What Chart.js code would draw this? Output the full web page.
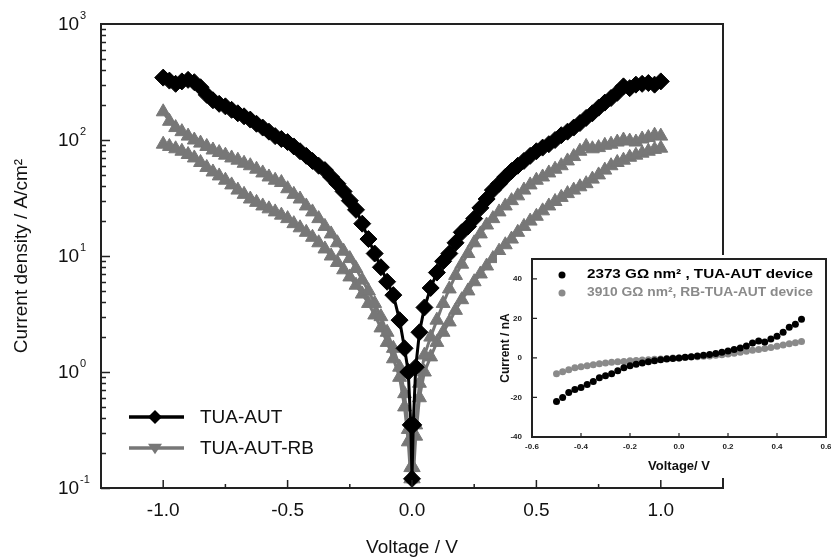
<!DOCTYPE html>
<html>
<head>
<meta charset="utf-8">
<script src="https://cdn.jsdelivr.net/npm/chart.js@4.4.1/dist/chart.umd.min.js"></script>
<style>
  body { margin: 0; background: #fff; }
  #wrap { position: relative; width: 831px; height: 558px; }
  #mainChart { position: absolute; left: 0; top: 0; }
  #insetChart { position: absolute; left: 497px; top: 255px; background: #fff; }
</style>
</head>
<body>
<div id="wrap">
  <canvas id="mainChart" width="831" height="558" style="width:831px;height:558px"></canvas>
  <canvas id="insetChart" width="334" height="223" style="width:334px;height:223px"></canvas>
</div>
<script>
// ---- main plot data (J-V, log scale) ----
const blackV = [
  -1.0, -0.975, -0.95, -0.925, -0.9, -0.875, -0.85, -0.825, -0.8, -0.775,
  -0.75, -0.725, -0.7, -0.675, -0.65, -0.625, -0.6, -0.575, -0.55, -0.525,
  -0.5, -0.475, -0.45, -0.425, -0.4, -0.375, -0.35, -0.325, -0.3, -0.275,
  -0.25, -0.225, -0.2, -0.175, -0.15, -0.125, -0.1, -0.075, -0.05,
  -0.03, -0.015, -0.005, 0, 0.005, 0.015, 0.03,
  0.05, 0.075, 0.1, 0.125, 0.15, 0.175, 0.2, 0.225, 0.25, 0.275,
  0.3, 0.325, 0.35, 0.375, 0.4, 0.425, 0.45, 0.475, 0.5, 0.525,
  0.55, 0.575, 0.6, 0.625, 0.65, 0.675, 0.7, 0.725, 0.75, 0.775,
  0.8, 0.825, 0.85, 0.875, 0.9, 0.925, 0.95, 0.975, 1.0];
const blackJ = [
  345, 325, 305, 320, 330, 315, 285, 245, 220, 205,
  195, 182, 170, 160, 150, 138, 128, 118, 108, 102,
  96, 88, 80, 73, 66, 60, 55, 48, 42, 36,
  30, 25, 19, 14, 10.5, 8, 6, 4.6, 2.8,
  1.6, 1.0, 0.35, 0.12, 0.35, 1.1, 2.2,
  3.6, 5.3, 7.2, 9, 10.5, 13, 16, 18, 21, 26,
  31, 37, 42, 48, 54, 60, 66, 73, 80, 86,
  92, 100, 110, 118, 128, 140, 155, 170, 190, 210,
  230, 255, 290, 280, 300, 305, 310, 300, 320];

const grayV = [
  -1.0, -0.975, -0.95, -0.925, -0.9, -0.875, -0.85, -0.825, -0.8, -0.775,
  -0.75, -0.725, -0.7, -0.675, -0.65, -0.625, -0.6, -0.575, -0.55, -0.525,
  -0.5, -0.475, -0.45, -0.425, -0.4, -0.375, -0.35, -0.325, -0.3, -0.275,
  -0.25, -0.225, -0.2, -0.175, -0.15, -0.125, -0.1, -0.075, -0.05,
  -0.03, -0.015, -0.005, 0.005, 0.015, 0.03,
  0.05, 0.075, 0.1, 0.125, 0.15, 0.175, 0.2, 0.225, 0.25, 0.275,
  0.3, 0.325, 0.35, 0.375, 0.4, 0.425, 0.45, 0.475, 0.5, 0.525,
  0.55, 0.575, 0.6, 0.625, 0.65, 0.675, 0.7, 0.725, 0.75, 0.775,
  0.8, 0.825, 0.85, 0.875, 0.9, 0.925, 0.95, 0.975, 1.0];
const grayUpperJ = [
  175, 145, 128, 118, 108, 100, 94, 88, 82, 78,
  74, 70, 67, 63, 60, 56, 52, 48, 45, 43,
  38, 34, 31, 27, 24, 21, 18, 15.5, 13, 11,
  9.5, 7.8, 6.2, 5, 3.9, 3, 2.2, 1.6, 1.1,
  0.65, 0.32, 0.15, 0.15, 0.35, 0.8,
  1.4, 2.0, 2.8, 3.9, 5.2, 6.8, 8.5, 10.5, 13, 15.5,
  18.5, 21, 24, 27, 30, 33, 37, 41, 45, 48,
  52, 56, 60, 66, 72, 80, 88, 84, 86, 90,
  92, 96, 100, 98, 96, 102, 105, 110, 108];
const grayLowerJ = [
  92, 88, 84, 80, 75, 70, 64, 58, 53, 49,
  45, 41, 37, 34, 31, 29, 27, 25.5, 24, 22.5,
  21, 19, 17.5, 16, 14.5, 13, 11.5, 10, 8.8, 7.6,
  6.6, 5.6, 4.7, 3.9, 3.1, 2.4, 1.8, 1.3, 0.9,
  0.5, 0.25, 0.12, 0.12, 0.28, 0.6,
  1.0, 1.35, 1.8, 2.2, 2.7, 3.4, 4.2, 5, 6, 7,
  8.2, 9.5, 11, 12.5, 14, 16, 18, 20, 22, 24.5,
  27, 29.5, 32, 34.5, 37, 39.5, 42, 46, 50, 55,
  60, 64, 67, 71, 74, 77, 80, 83, 85];

const seriesNames = ['TUA-AUT', 'TUA-AUT-RB'];
const xTickValues = [-1.0, -0.5, 0.0, 0.5, 1.0];
const xMinorValues = [-0.75, -0.25, 0.25, 0.75];
const yExponents = [-1, 0, 1, 2, 3];

// ---- inset data (I-V, linear) ----
const insetV = [-0.5, -0.475, -0.45, -0.425, -0.4, -0.375, -0.35, -0.325, -0.3, -0.275, -0.25, -0.225, -0.2, -0.175, -0.15, -0.125, -0.1, -0.075, -0.05, -0.025,
  0, 0.025, 0.05, 0.075, 0.1, 0.125, 0.15, 0.175, 0.2, 0.225, 0.25, 0.275, 0.3, 0.325, 0.35, 0.375, 0.4, 0.425, 0.45, 0.475, 0.5];
const insetBlackI = [-22, -20, -17.5, -16, -15, -13.5, -12, -10, -9, -8, -6.5, -5, -4, -3.2, -2.6, -2, -1.5, -1, -0.6, -0.3,
  0, 0.3, 0.6, 1, 1.3, 1.7, 2.2, 2.8, 3.5, 4.3, 5, 6, 7.5, 8.5, 8, 9.5, 11, 13, 15.5, 17, 19.5];
const insetGrayI = [-8, -7, -6, -5, -4.5, -4, -3.5, -3, -2.6, -2.2, -2, -1.8, -1.5, -1.3, -1.1, -0.9, -0.7, -0.5, -0.3, -0.1,
  0, 0.2, 0.4, 0.6, 0.8, 1, 1.3, 1.6, 2, 2.4, 2.8, 3.3, 3.8, 4.3, 4.8, 5.3, 5.9, 6.5, 7.1, 7.7, 8.3];
const insetLabels = ['2373 G\u03A9 nm\u00B2 , TUA-AUT device', '3910 G\u03A9 nm\u00B2, RB-TUA-AUT device'];
const insetXTicks = [-0.6, -0.4, -0.2, 0.0, 0.2, 0.4, 0.6];
const insetYTicks = [-40, -20, 0, 20, 40];

const FONT = "'Liberation Sans', Arial, sans-serif";
const BLACK = '#000000';
const GRAY = '#777777';

function pts(xs, ys) {
    return xs.map((v, i) => ({ x: v, y: ys[i] }));
}

function drawTri(ctx, x, y, r, down) {
    ctx.beginPath();
    if (down) {
        ctx.moveTo(x - r, y - r * 0.6);
        ctx.lineTo(x + r, y - r * 0.6);
        ctx.lineTo(x, y + r * 0.9);
    } else {
        ctx.moveTo(x - r, y + r * 0.6);
        ctx.lineTo(x + r, y + r * 0.6);
        ctx.lineTo(x, y - r * 0.9);
    }
    ctx.closePath();
    ctx.fill();
}

// frame, inward ticks, 10^n labels and legend for the main plot
const mainDecor = {
    id: 'mainDecor',
    afterDraw(chart) {
        const { ctx, chartArea: a, scales: { x, y } } = chart;
        ctx.save();
        ctx.strokeStyle = '#222';
        ctx.lineWidth = 2;
        ctx.strokeRect(a.left, a.top, a.right - a.left, a.bottom - a.top);

        ctx.lineWidth = 1.5;
        ctx.beginPath();
        xTickValues.forEach(v => {
            const px = x.getPixelForValue(v);
            ctx.moveTo(px, a.bottom);
            ctx.lineTo(px, a.bottom - 8);
        });
        xMinorValues.forEach(v => {
            const px = x.getPixelForValue(v);
            ctx.moveTo(px, a.bottom);
            ctx.lineTo(px, a.bottom - 4);
        });
        for (let e = -1; e < 3; e++) {
            for (let k = 1; k < 10; k++) {
                const py = Math.round(y.getPixelForValue(k * Math.pow(10, e))) + 0.5;
                ctx.moveTo(a.left, py);
                ctx.lineTo(a.left + (k === 1 ? 9 : 5), py);
            }
        }
        ctx.stroke();

        // y labels: 10 with superscript exponent
        ctx.fillStyle = '#111';
        ctx.textBaseline = 'middle';
        ctx.textAlign = 'left';
        yExponents.forEach(e => {
            const py = y.getPixelForValue(Math.pow(10, e));
            ctx.font = '19px ' + FONT;
            ctx.fillText('10', 58, py + 1);
            ctx.font = '11px ' + FONT;
            ctx.fillText(String(e), 80, py - 8);
        });

        // legend
        const legY = [417, 448];
        const legCol = [BLACK, GRAY];
        legY.forEach((ly, i) => {
            ctx.strokeStyle = legCol[i];
            ctx.fillStyle = legCol[i];
            ctx.lineWidth = 3.5;
            ctx.beginPath();
            ctx.moveTo(129, ly);
            ctx.lineTo(184, ly);
            ctx.stroke();
            if (i === 0) {
                ctx.beginPath();
                ctx.moveTo(155, ly - 7);
                ctx.lineTo(162, ly);
                ctx.lineTo(155, ly + 7);
                ctx.lineTo(148, ly);
                ctx.closePath();
                ctx.fill();
            } else {
                drawTri(ctx, 155, ly, 7, true);
            }
            ctx.fillStyle = '#111';
            ctx.font = '19px ' + FONT;
            ctx.fillText(seriesNames[i], 200, ly + 1);
        });
        ctx.restore();
    }
};

new Chart(document.getElementById('mainChart').getContext('2d'), {
    type: 'line',
    data: {
        datasets: [{
            label: seriesNames[0],
            data: pts(blackV, blackJ),
            borderColor: BLACK,
            backgroundColor: BLACK,
            borderWidth: 3,
            pointStyle: 'rectRot',
            pointRadius: 8.5,
            pointBorderWidth: 1
        }, {
            label: seriesNames[1],
            data: pts(grayV, grayUpperJ),
            borderColor: GRAY,
            backgroundColor: GRAY,
            borderWidth: 3,
            pointStyle: 'triangle',
            pointRadius: 8,
            pointBorderWidth: 1
        }, {
            label: seriesNames[1] + ' (return)',
            data: pts(grayV, grayLowerJ),
            borderColor: GRAY,
            backgroundColor: GRAY,
            borderWidth: 3,
            pointStyle: 'triangle',
            pointRadius: 8,
            pointBorderWidth: 1
        }]
    },
    options: {
        responsive: false,
        animation: false,
        layout: { padding: { top: 24, right: 108, left: 0, bottom: 0 } },
        scales: {
            x: {
                type: 'linear',
                min: -1.25,
                max: 1.25,
                afterBuildTicks: s => { s.ticks = xTickValues.map(v => ({ value: v })); },
                afterFit: s => { s.height = 70; s.paddingLeft = 0; s.paddingRight = 0; },
                grid: { display: false, drawTicks: false },
                border: { display: false },
                ticks: {
                    padding: 11,
                    color: '#111',
                    font: { family: FONT, size: 19 },
                    callback: v => v.toFixed(1)
                },
                title: {
                    display: true,
                    text: 'Voltage / V',
                    color: '#111',
                    font: { family: FONT, size: 19 },
                    padding: { top: 0, bottom: -1 }
                }
            },
            y: {
                type: 'logarithmic',
                min: 0.1,
                max: 1000,
                afterFit: s => { s.width = 101; s.paddingTop = 0; s.paddingBottom = 0; },
                grid: { display: false, drawTicks: false },
                border: { display: false },
                ticks: { display: false },
                title: {
                    display: true,
                    text: 'Current density / A/cm\u00B2',
                    color: '#111',
                    font: { family: FONT, size: 19 },
                    padding: { top: 10, bottom: 0 }
                }
            }
        },
        plugins: {
            legend: { display: false },
            tooltip: { enabled: false }
        }
    },
    plugins: [mainDecor]
});

// frame, inward ticks and legend of the inset
const insetDecor = {
    id: 'insetDecor',
    afterDraw(chart) {
        const { ctx, chartArea: a, scales: { x, y } } = chart;
        ctx.save();
        ctx.strokeStyle = '#222';
        ctx.lineWidth = 2;
        ctx.strokeRect(a.left, a.top, a.right - a.left, a.bottom - a.top);
        ctx.lineWidth = 1.2;
        ctx.beginPath();
        insetXTicks.slice(1, -1).forEach(v => {
            const px = x.getPixelForValue(v);
            ctx.moveTo(px, a.bottom);
            ctx.lineTo(px, a.bottom - 4);
        });
        insetYTicks.slice(1).forEach(v => {
            const py = y.getPixelForValue(v);
            ctx.moveTo(a.left, py);
            ctx.lineTo(a.left + 5, py);
        });
        ctx.stroke();

        const rows = [20, 38];
        const cols = [BLACK, '#8a8a8a'];
        ctx.font = 'bold 12px ' + FONT;
        ctx.textBaseline = 'middle';
        ctx.textAlign = 'left';
        rows.forEach((ry, i) => {
            ctx.fillStyle = cols[i];
            ctx.beginPath();
            ctx.arc(65, ry, 3.5, 0, Math.PI * 2);
            ctx.fill();
            const w = ctx.measureText(insetLabels[i]).width;
            ctx.save();
            ctx.translate(90, ry);
            ctx.scale(226 / w, 1);
            ctx.fillText(insetLabels[i], 0, 0);
            ctx.restore();
        });
        ctx.restore();
    }
};

new Chart(document.getElementById('insetChart').getContext('2d'), {
    type: 'line',
    data: {
        datasets: [{
            label: insetLabels[0],
            data: pts(insetV, insetBlackI),
            showLine: false,
            backgroundColor: BLACK,
            borderColor: BLACK,
            pointRadius: 3.5,
            pointBorderWidth: 0
        }, {
            label: insetLabels[1],
            data: pts(insetV, insetGrayI),
            showLine: false,
            backgroundColor: '#8a8a8a',
            borderColor: '#8a8a8a',
            pointRadius: 3.5,
            pointBorderWidth: 0
        }]
    },
    options: {
        responsive: false,
        animation: false,
        layout: { padding: { top: 4, right: 5, left: 0, bottom: 0 } },
        scales: {
            x: {
                type: 'linear',
                min: -0.6,
                max: 0.6,
                afterBuildTicks: s => { s.ticks = insetXTicks.map(v => ({ value: v })); },
                afterFit: s => { s.height = 41; s.paddingLeft = 0; s.paddingRight = 0; },
                grid: { display: false, drawTicks: false },
                border: { display: false },
                ticks: {
                    padding: 5,
                    color: '#222',
                    font: { family: FONT, size: 8, weight: 'bold' },
                    callback: v => v.toFixed(1)
                },
                title: {
                    display: true,
                    text: 'Voltage/ V',
                    color: '#111',
                    font: { family: FONT, size: 13, weight: 'bold' },
                    padding: { top: 0, bottom: 4 }
                }
            },
            y: {
                min: -40,
                max: 50,
                afterBuildTicks: s => { s.ticks = insetYTicks.map(v => ({ value: v })); },
                afterFit: s => { s.width = 35; s.paddingTop = 0; s.paddingBottom = 0; },
                grid: { display: false, drawTicks: false },
                border: { display: false },
                ticks: {
                    padding: 10,
                    color: '#222',
                    font: { family: FONT, size: 8, weight: 'bold' }
                },
                title: {
                    display: true,
                    text: 'Current / nA',
                    color: '#111',
                    font: { family: FONT, size: 12, weight: 'bold' },
                    padding: { top: 1, bottom: 0 }
                }
            }
        },
        plugins: {
            legend: { display: false },
            tooltip: { enabled: false }
        }
    },
    plugins: [insetDecor]
});
</script>
</body>
</html>
